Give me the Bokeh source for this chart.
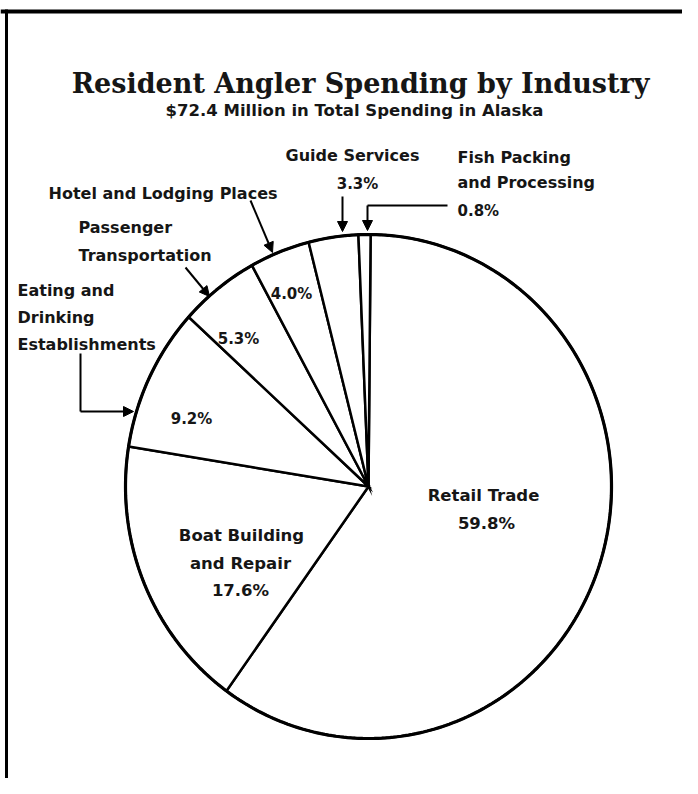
import numpy as np
from bokeh.plotting import figure
from bokeh.models import Range1d, Arrow, NormalHead
from bokeh.core.properties import value
from bokeh.embed import file_html
from bokeh.resources import INLINE

# ---------------- data ----------------
title_text = "Resident Angler Spending by Industry"
subtitle_text = "$72.4 Million in Total Spending in Alaska"
industries = ["Retail Trade", "Boat Building and Repair",
              "Eating and Drinking Establishments", "Passenger Transportation",
              "Hotel and Lodging Places", "Guide Services",
              "Fish Packing and Processing"]
shares = [59.8, 17.6, 9.2, 5.3, 4.0, 3.3, 0.8]
label_lines = [["Retail Trade"], ["Boat Building", "and Repair"],
               ["Eating and", "Drinking", "Establishments"],
               ["Passenger", "Transportation"], ["Hotel and Lodging Places"],
               ["Guide Services"], ["Fish Packing", "and Processing"]]
pct_text = [f"{s:.1f}%" for s in shares]

# ---------------- layout (picture pixel coords) ----------------
W, H = 682, 778
cx, cy, rx, ry = 368.0, 486.0, 243.0, 252.0
start_deg = 0.5  # clockwise from 12 o'clock

p = figure(width=W, height=H, output_backend="svg", toolbar_location=None,
           x_range=Range1d(0, W), y_range=Range1d(H, 0),
           min_border=0, outline_line_color=None, background_fill_color="white",
           border_fill_color="white")
p.axis.visible = False
p.grid.visible = False

# frame
p.line(x=[0, W], y=[11, 11], line_color="black", line_width=4)
p.line(x=[6, 6], y=[9, H], line_color="black", line_width=3)

# wedges
fr = np.array(shares) / sum(shares)
edges = np.deg2rad(start_deg) + 2 * np.pi * np.concatenate([[0], np.cumsum(fr)])
xs, ys = [], []
for a0, a1 in zip(edges[:-1], edges[1:]):
    t = np.linspace(a0, a1, max(3, int(np.degrees(a1 - a0) * 2)))
    xs.append(np.concatenate([[cx], cx + rx * np.sin(t)]).tolist())
    ys.append(np.concatenate([[cy], cy - ry * np.cos(t)]).tolist())
p.patches(xs=xs, ys=ys, fill_color="white", line_color="black", line_width=2.5,
          line_join="miter")
t = np.linspace(0, 2 * np.pi, 400)
p.line(x=cx + rx * np.sin(t), y=cy - ry * np.cos(t), line_color="black", line_width=3.2)

SANS = "DejaVu Sans"

def txt(x, y, s, size, align="left", font=SANS, style="bold"):
    p.text(x=[x], y=[y], text=[s], text_font=value(font), text_font_style=style,
           text_font_size=size, text_align=align, text_baseline="alphabetic",
           text_color="#161616")

txt(360, 83, title_text, "27px", "center", "DejaVu Serif", "bold")
txt(354, 110, subtitle_text, "16.5px", "center")

OUT = "16px"
PCT = "15px"
IN = "16.5px"
# guide services
txt(352, 155, label_lines[5][0], OUT, "center")
txt(357, 183, pct_text[5], PCT, "center")
# hotel
txt(48, 193, label_lines[4][0], OUT)
# passenger
txt(78, 227, label_lines[3][0], OUT)
txt(78, 255, label_lines[3][1], OUT)
# eating
for yy, s in zip([290, 317, 344], label_lines[2]):
    txt(17, yy, s, OUT)
# fish
txt(457, 157, label_lines[6][0], OUT)
txt(457, 182, label_lines[6][1], OUT)
txt(457, 210, pct_text[6], PCT)
# retail
txt(483, 495, label_lines[0][0], IN, "center")
txt(486, 523, pct_text[0], IN, "center")
# boat
txt(241, 535, label_lines[1][0], IN, "center")
txt(240, 563, label_lines[1][1], IN, "center")
txt(240, 590, pct_text[1], IN, "center")
# inner pct
txt(191, 418, pct_text[2], PCT, "center")
txt(238, 338, pct_text[3], PCT, "center")
txt(291, 293, pct_text[4], PCT, "center")

def arrow(x0, y0, x1, y1):
    p.add_layout(Arrow(end=NormalHead(size=10, fill_color="black", line_color="black"),
                       x_start=x0, y_start=y0, x_end=x1, y_end=y1,
                       line_color="black", line_width=2))

arrow(342, 196, 342, 231)
arrow(250, 200, 272, 252)
arrow(185, 267, 209, 296)
p.line(x=[80, 80], y=[353, 411], line_color="black", line_width=2)
arrow(80, 411, 133, 411)
p.line(x=[447, 367], y=[205, 205], line_color="black", line_width=2)
arrow(367, 205, 367, 230)

open("out.html", "w").write(file_html(p, INLINE))
